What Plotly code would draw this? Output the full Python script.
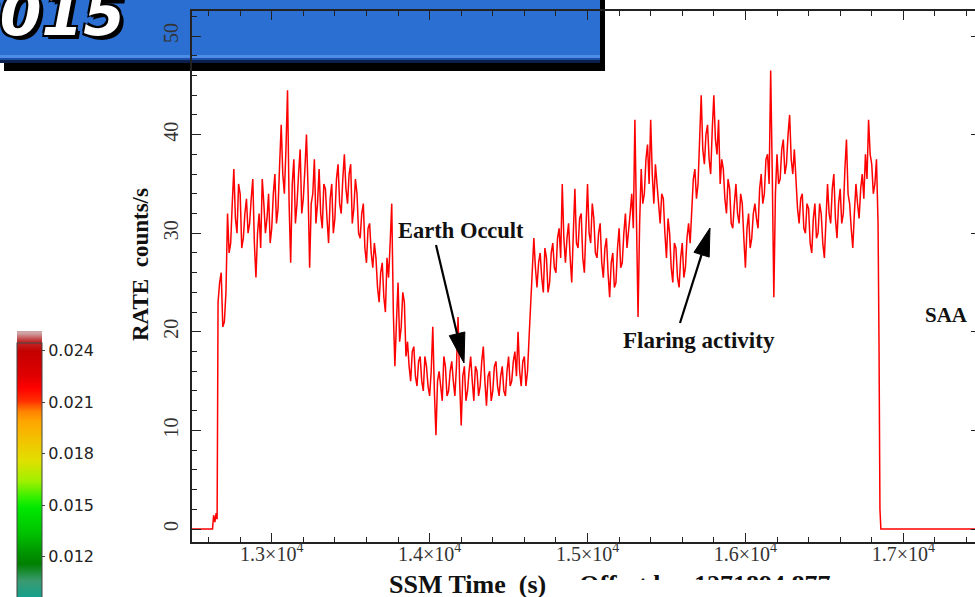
import math
import plotly.graph_objects as go

# ---------------- light curve (SSM rate, 10 s bins) ----------------
lead_time = [12495, 12625, 12632, 12640, 12648, 12654, 12657]
lead_rate = [0.0, 0.0, 1.4, 0.7, 1.6, 1.0, 11.5]

bin_start = 12660
bin_width = 10
binned_rate = [
    23, 25, 26, 20.5, 21, 24, 32, 28, 29, 33, 36.5, 31.5, 30, 35, 34, 28.5, 29.5, 32, 33.5, 30,
    31, 33.5, 35.5, 29, 25.5, 30, 32, 28.5, 35.5, 33, 30, 31.5, 34, 29, 30.5, 34, 36, 31, 32.5, 37,
    41, 36, 34, 38.5, 44.5, 33, 27, 35, 37.5, 31, 33, 36, 38.5, 32, 33.5, 36.5, 40, 34.5, 26.5, 33,
    34, 37.5, 31, 33, 36.5, 32, 30.5, 35, 34.5, 31.5, 29, 33.5, 35, 30, 31.5, 35.5, 37, 33, 32, 35.5,
    38, 34.5, 33, 36, 37, 31, 32.5, 35.5, 34, 30, 29.5, 32, 33, 28.5, 27, 30.5, 31, 28, 26.5, 29,
    27.5, 24.5, 23, 26, 27, 23.5, 22, 27.5, 25.5, 29, 33, 22, 16.5, 21, 25, 19, 20.5, 24, 23, 17.5,
    19, 16.5, 15, 18, 18.5, 15.5, 14.5, 17, 17.5, 15, 14, 17.5, 16.5, 14.5, 13.5, 16, 20.5, 14, 9.5, 15,
    16, 14.5, 13, 17.5, 16.5, 13.5, 14, 16, 17, 15, 13.5, 16.5, 21.5, 15, 10.5, 15.5, 16.5, 13, 14, 16,
    17.5, 15, 13, 16.5, 16, 13.5, 14.5, 17, 18.5, 15, 12.5, 15.5, 16, 13, 14, 16.5, 17, 14.5, 13.5, 15.5,
    16.5, 14, 13.5, 16, 17.5, 14.5, 15, 17, 18, 15.5, 20, 16, 14.5, 17, 17.5, 14.5, 16, 19.5, 23, 26,
    29.5, 26.5, 24.5, 27, 28, 25.5, 24, 28.5, 27.5, 24, 25, 28, 29, 26.5, 26, 29.5, 30.5, 27.5, 35, 29.5,
    27, 29.5, 31, 27.5, 25, 30, 34.5, 29, 28.5, 31.5, 32, 27.5, 26, 30.5, 35, 30, 29, 33, 31.5, 28,
    27.5, 30, 31, 27, 25.5, 28.5, 29.5, 26, 23.5, 27, 28, 24.5, 25, 28.5, 30.5, 26.5, 27, 30, 32, 28.5,
    30, 32, 34, 30.5, 41.5, 33, 21.5, 31, 36.5, 33, 34, 37.5, 39, 35, 41.5, 36, 33, 37, 35, 32.5,
    31, 34, 33.5, 30, 27.5, 31.5, 30, 26.5, 25, 29, 28.5, 25.5, 24.5, 27.5, 29, 25.5, 26.5, 29.5, 31, 29,
    33, 35.5, 36.5, 33.5, 35, 39, 44, 38.5, 37, 40, 41, 37.5, 36, 40.5, 44, 39.5, 38, 41.5, 35, 37.5,
    36.5, 33.5, 32, 35.5, 34.5, 31, 30.5, 33, 35, 32, 31, 34, 33, 29.5, 26.5, 30.5, 32, 28.5, 29.5, 32,
    33, 31.5, 30.5, 34.5, 36, 33, 34, 37.5, 38, 35, 46.5, 36, 23.5, 34, 38, 35, 35.5, 38.5, 39.5, 36,
    37, 40, 42, 37.5, 36, 38.5, 35.5, 32.5, 31, 33.5, 34, 30.5, 30, 33, 32.5, 29, 28, 31.5, 33, 29.5,
    30, 33, 32, 29, 27.5, 31.5, 35, 32, 31, 34.5, 36, 31.5, 29.5, 33, 34.5, 31, 32, 36.5, 39.5, 34,
    33, 30.5, 28.5, 32, 35, 33, 31.5, 34.5, 36, 33.5, 38, 35.5, 41.5, 38, 37, 34, 35, 37.5, 31,
]

tail_time = [16846, 16852, 16858, 17460]
tail_rate = [19.0, 2.0, 0.0, 0.0]

time = (lead_time
        + [bin_start + i * bin_width for i in range(len(binned_rate))]
        + tail_time)
rate = lead_rate + binned_rate + tail_rate

# ---------------- axis ticks ----------------
x_tickvals = [13000, 14000, 15000, 16000, 17000]
x_ticktext = ["1.3×10<sup>4</sup>", "1.4×10<sup>4</sup>", "1.5×10<sup>4</sup>",
              "1.6×10<sup>4</sup>", "1.7×10<sup>4</sup>"]
y_tickvals = [0, 10, 20, 30, 40, 50]

# ---------------- colour bar ----------------
cbar_tickvals = [0.012, 0.015, 0.018, 0.021, 0.024]
cbar_ticktext = ["0.012", "0.015", "0.018", "0.021", "0.024"]
cbar_min, cbar_max = 0.006524, 0.025165
cbar_scale = [
    [0.0, "#12a0a0"], [0.166, "#15a08e"], [0.219, "#3a9a70"],
    [0.272, "#008000"], [0.303, "#009200"], [0.366, "#00c000"],
    [0.447, "#00e800"], [0.478, "#30f000"], [0.531, "#a0f000"],
    [0.594, "#e0e000"], [0.656, "#f2c400"], [0.719, "#ffa500"],
    [0.75, "#ff8000"], [0.781, "#ff3000"], [0.822, "#ff0000"],
    [0.859, "#e00000"], [0.9375, "#c40000"], [0.969, "#c03030"],
    [0.994, "#d0a8a8"], [1.0, "#c8a0a4"],
]

W, H = 975, 597
L_M, T_M = 192, 11


def px(x):
    return (x - L_M) / (W - L_M)


def py(y):
    return (H - y) / (H - T_M)


SERIF = "Liberation Serif"

fig = go.Figure()

fig.add_trace(go.Scatter(
    x=[None], y=[None], mode="markers", hoverinfo="skip", showlegend=False,
    marker=dict(
        color=[0.02], cmin=cbar_min, cmax=cbar_max, colorscale=cbar_scale,
        showscale=True,
        colorbar=dict(
            xref="container", yref="container",
            x=17 / W, xanchor="left", y=1 - 337 / H, yanchor="top",
            lenmode="pixels", len=320, thicknessmode="pixels", thickness=25,
            xpad=0, ypad=0, outlinewidth=1, outlinecolor="#444",
            tickvals=cbar_tickvals, ticktext=cbar_ticktext,
            ticks="outside", ticklen=3, tickcolor="#444",
            tickfont=dict(family="DejaVu Sans", size=16, color="#222"),
        ),
    ),
))

fig.add_trace(go.Scatter(
    x=time, y=rate, mode="lines", showlegend=False,
    line=dict(color="#ff0000", width=1.5),
))

# right-hand axis carrying the mirrored major ticks
fig.add_trace(go.Scatter(x=[], y=[], yaxis="y2", showlegend=False))

# offset line under the time axis, clipped by its own small subplot
fig.add_trace(go.Scatter(
    x=[0.483], y=[0.35], text=["Offset by  1271894.877"], mode="text",
    textposition="bottom center", cliponaxis=True, showlegend=False,
    textfont=dict(family=SERIF, size=26, color="#111", weight="bold"),
    xaxis="x3", yaxis="y3", hoverinfo="skip",
))

y_range = [-1.318, 52.54]
axis_col = "#222"
tick_font = dict(family=SERIF, size=20, color="#333")

fig.update_layout(
    width=W, height=H,
    margin=dict(l=L_M, r=0, t=T_M, b=0),
    paper_bgcolor="white", plot_bgcolor="white", showlegend=False,
    xaxis=dict(
        range=[12495, 17454], domain=[0, 1], anchor="y",
        showline=True, linecolor=axis_col, linewidth=1.6, mirror="ticks",
        ticks="inside", ticklen=9, tickwidth=1.4, tickcolor=axis_col,
        tickvals=x_tickvals, ticktext=x_ticktext, tickfont=tick_font,
        ticklabelstandoff=-7,
        minor=dict(ticks="inside", ticklen=5, tickwidth=1.2, tickcolor=axis_col,
                   tick0=13000, dtick=200, showgrid=False),
        showgrid=False, zeroline=False,
    ),
    yaxis=dict(
        range=y_range, domain=[py(542), 1], anchor="x",
        showline=True, linecolor=axis_col, linewidth=1.6,
        ticks="inside", ticklen=9, tickwidth=1.4, tickcolor=axis_col,
        tickvals=y_tickvals, tickangle=-90, tickfont=tick_font,
        ticklabelstandoff=4,
        minor=dict(ticks="inside", ticklen=5, tickwidth=1.2, tickcolor=axis_col,
                   tick0=0, dtick=2, showgrid=False),
        showgrid=False, zeroline=False,
    ),
    yaxis2=dict(
        range=y_range, overlaying="y", side="right", anchor="x",
        ticks="inside", ticklen=4, tickwidth=1.4, tickcolor=axis_col,
        tickvals=y_tickvals, showticklabels=False, showline=False,
        showgrid=False, zeroline=False,
    ),
    xaxis3=dict(domain=[px(560), px(860)], anchor="y3", range=[0, 1],
                visible=False),
    yaxis3=dict(domain=[py(580), py(560)], anchor="x3", range=[0, 1],
                visible=False),
)

# ---------------- banner in the top-left corner ----------------
banner = [
    (4, 605, -10, 71, "#000000"),
    (-10, 600, -10, 63, "#2a6fd1"),
    (-10, 600, 55, 58, "#4d8de6"),
    (-10, 600, 58, 60, "#1c4ea8"),
    (-10, 600, 60, 63, "#0b1f4d"),
]
for x0, x1, y0, y1, col in banner:
    fig.add_shape(type="rect", xref="paper", yref="paper", layer="below",
                  x0=px(x0), x1=px(x1), y0=py(y1), y1=py(y0),
                  fillcolor=col, line=dict(width=0))


def add_arrow(tail, tip, head_len, head_w):
    dx, dy = tip[0] - tail[0], tip[1] - tail[1]
    d = math.hypot(dx, dy)
    ux, uy = dx / d, dy / d
    bx, by = tip[0] - ux * head_len, tip[1] - uy * head_len
    nx, ny = -uy, ux
    p1 = (bx + nx * head_w / 2, by + ny * head_w / 2)
    p2 = (bx - nx * head_w / 2, by - ny * head_w / 2)
    fig.add_shape(type="line", xref="paper", yref="paper",
                  x0=px(tail[0]), y0=py(tail[1]), x1=px(bx), y1=py(by),
                  line=dict(color="black", width=2.2))
    path = (f"M {px(tip[0])} {py(tip[1])} L {px(p1[0])} {py(p1[1])} "
            f"L {px(p2[0])} {py(p2[1])} Z")
    fig.add_shape(type="path", xref="paper", yref="paper", path=path,
                  fillcolor="black", line=dict(color="black", width=1))


add_arrow((436, 245), (464, 363), 30, 16)
add_arrow((680, 323), (710, 228), 28, 16)

labels = [
    ("RATE  counts/s", 140, 265, 23, -90),
    ("SSM Time  (s)", 467, 584, 26, 0),
    ("Earth Occult", 461, 230, 22.5, 0),
    ("Flaring activity", 699, 341, 23, 0),
    ("SAA", 946, 315, 21, 0),
]
for txt, x, y, size, ang in labels:
    fig.add_annotation(text=txt, xref="paper", yref="paper", x=px(x), y=py(y),
                       xanchor="center", yanchor="middle", showarrow=False,
                       textangle=ang,
                       font=dict(family=SERIF, size=size, color="#111",
                                 weight="bold"))

fig.add_annotation(
    text="2015", xref="paper", yref="paper", x=px(127), y=py(14),
    xanchor="right", yanchor="middle", showarrow=False,
    font=dict(family="DejaVu Sans", size=60, color="white", weight="bold",
              style="italic",
              shadow="4px 4px 0 #000, -2px -2px 0 #000, 2px -2px 0 #000, "
                     "-2px 2px 0 #000, 2px 2px 0 #000"),
)

fig.write_html("out.html")
